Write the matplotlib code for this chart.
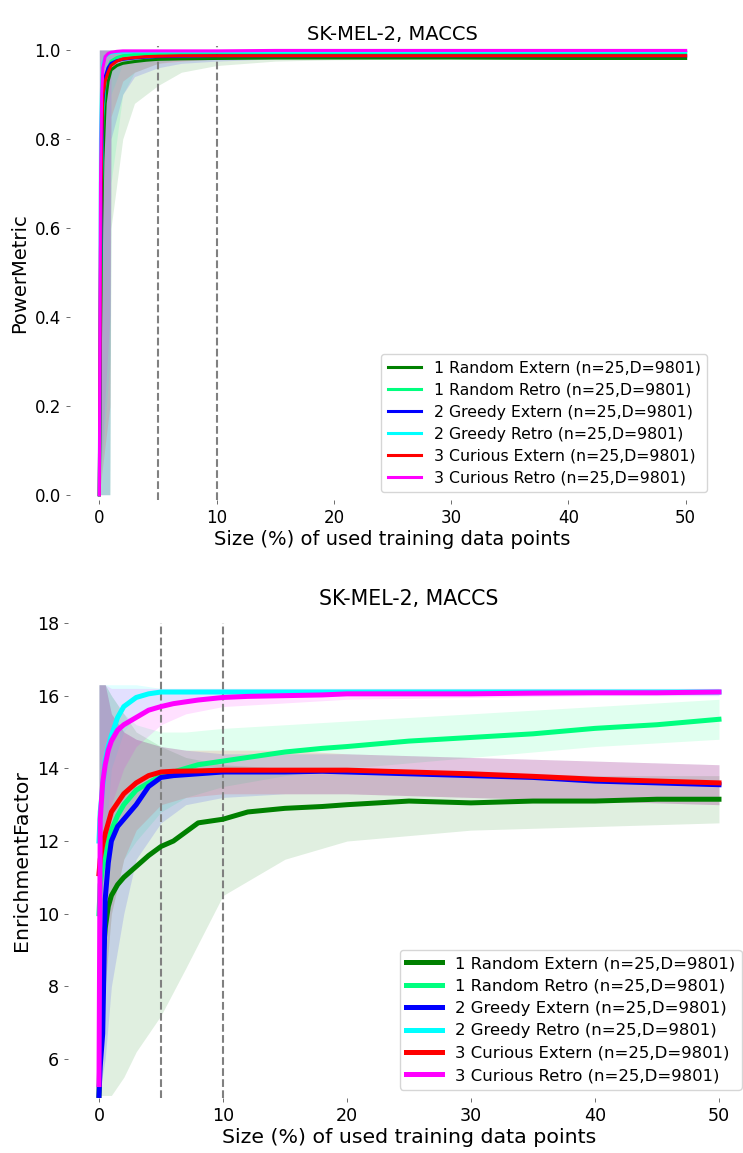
import matplotlib
matplotlib.use("Agg")
import matplotlib.pyplot as plt

# названия серий и цвета
labels = ["1 Random Extern (n=25,D=9801)", "1 Random Retro (n=25,D=9801)",
          "2 Greedy Extern (n=25,D=9801)", "2 Greedy Retro (n=25,D=9801)",
          "3 Curious Extern (n=25,D=9801)", "3 Curious Retro (n=25,D=9801)"]
colors = ["#008000", "#00ff7f", "#0000ff", "#00ffff", "#ff0000", "#ff00ff"]
title = "SK-MEL-2, MACCS"
xlabel = "Size (%) of used training data points"
vlines_x = [5, 10]

# ---- PowerMetric: средние кривые
x_pm = [0, 0.1, 0.2, 0.3, 0.5, 0.75, 1, 1.5, 2, 3, 4, 5, 7, 10, 15, 20, 30, 40, 50]
pm_rand_ext = [0, 0.35, 0.6, 0.75, 0.88, 0.93, 0.955, 0.965, 0.97, 0.974, 0.977, 0.979, 0.98, 0.981, 0.982, 0.982, 0.982, 0.981, 0.981]
pm_rand_ret = [0, 0.45, 0.7, 0.85, 0.93, 0.96, 0.975, 0.983, 0.987, 0.99, 0.991, 0.992, 0.993, 0.994, 0.994, 0.994, 0.994, 0.994, 0.994]
pm_greedy_ext = [0, 0.5, 0.75, 0.88, 0.94, 0.96, 0.97, 0.976, 0.979, 0.982, 0.984, 0.985, 0.986, 0.987, 0.987, 0.987, 0.987, 0.987, 0.987]
pm_greedy_ret = [0, 0.8, 0.93, 0.97, 0.985, 0.99, 0.993, 0.995, 0.995, 0.996, 0.996, 0.996, 0.996, 0.996, 0.996, 0.996, 0.996, 0.996, 0.996]
pm_curious_ext = [0, 0.55, 0.8, 0.9, 0.93, 0.95, 0.965, 0.975, 0.98, 0.983, 0.985, 0.986, 0.987, 0.987, 0.987, 0.987, 0.987, 0.987, 0.987]
pm_curious_ret = [0, 0.7, 0.9, 0.96, 0.985, 0.992, 0.995, 0.997, 0.998, 0.998, 0.998, 0.998, 0.998, 0.998, 0.999, 0.999, 0.999, 0.999, 0.999]

# ---- PowerMetric: разброс 25 прогонов (min / max)
xb_pm = [0, 0.9, 1, 2, 3, 5, 7, 10, 15, 20, 30, 40, 50]
pm_lo = [
    [0, 0, 0.6, 0.8, 0.88, 0.92, 0.95, 0.965, 0.975, 0.978, 0.98, 0.98, 0.98],
    [0, 0, 0.7, 0.9, 0.95, 0.97, 0.98, 0.985, 0.99, 0.99, 0.991, 0.992, 0.992],
    [0, 0, 0.8, 0.9, 0.94, 0.96, 0.97, 0.975, 0.98, 0.982, 0.984, 0.985, 0.985],
    [0, 0.3, 0.9, 0.97, 0.98, 0.99, 0.99, 0.992, 0.993, 0.993, 0.993, 0.993, 0.993],
    [0, 0.2, 0.85, 0.93, 0.95, 0.97, 0.975, 0.98, 0.983, 0.984, 0.985, 0.985, 0.985],
    [0, 0.4, 0.95, 0.98, 0.99, 0.995, 0.996, 0.997, 0.997, 0.997, 0.997, 0.997, 0.997],
]
pm_hi = [
    [1, 1, 1, 0.995, 0.993, 0.99, 0.99, 0.99, 0.99, 0.99, 0.99, 0.99, 0.99],
    [1, 1, 1, 1, 1, 0.998, 0.998, 0.998, 0.998, 0.998, 0.998, 0.998, 0.998],
    [1, 1, 1, 0.995, 0.995, 0.993, 0.993, 0.993, 0.993, 0.993, 0.993, 0.993, 0.993],
    [1, 1, 1, 1, 1, 1, 1, 1, 1, 1, 1, 1, 1],
    [1, 1, 1, 0.995, 0.995, 0.993, 0.993, 0.993, 0.993, 0.993, 0.993, 0.993, 0.993],
    [1, 1, 1, 1, 1, 1, 1, 1, 1, 1, 1, 1, 1],
]

# ---- EnrichmentFactor: средние кривые
x_ef = [0, 0.1, 0.3, 0.5, 0.75, 1, 1.5, 2, 3, 4, 5, 6, 8, 10, 12, 15, 18, 20, 25, 30, 35, 40, 45, 50]
ef_rand_ext = [5.0, 6.5, 8.7, 9.6, 10.2, 10.5, 10.8, 11.0, 11.3, 11.6, 11.85, 12.0, 12.5, 12.6, 12.8, 12.9, 12.95, 13.0, 13.1, 13.05, 13.1, 13.1, 13.15, 13.15]
ef_rand_ret = [10.0, 10.8, 11.3, 11.5, 12.0, 12.3, 12.7, 13.0, 13.4, 13.6, 13.8, 13.9, 14.1, 14.2, 14.3, 14.45, 14.55, 14.6, 14.75, 14.85, 14.95, 15.1, 15.2, 15.35]
ef_greedy_ext = [5.0, 5.8, 6.7, 10.4, 11.4, 12.0, 12.4, 12.6, 13.0, 13.5, 13.75, 13.8, 13.85, 13.9, 13.9, 13.9, 13.92, 13.9, 13.85, 13.8, 13.75, 13.65, 13.6, 13.55]
ef_greedy_ret = [12.0, 12.8, 13.5, 14.2, 14.6, 14.9, 15.4, 15.7, 15.95, 16.05, 16.1, 16.1, 16.1, 16.1, 16.1, 16.1, 16.1, 16.1, 16.1, 16.1, 16.1, 16.1, 16.1, 16.1]
ef_curious_ext = [11.1, 11.5, 11.9, 12.2, 12.5, 12.8, 13.05, 13.3, 13.6, 13.8, 13.9, 13.92, 13.93, 13.95, 13.95, 13.95, 13.95, 13.95, 13.9, 13.85, 13.78, 13.7, 13.65, 13.6]
ef_curious_ret = [5.3, 12.6, 13.6, 14.1, 14.5, 14.75, 15.05, 15.2, 15.4, 15.6, 15.7, 15.78, 15.88, 15.95, 15.98, 16.0, 16.02, 16.05, 16.05, 16.05, 16.07, 16.08, 16.08, 16.1]

# ---- EnrichmentFactor: разброс прогонов
xb_ef = [0, 0.5, 1, 2, 3, 5, 7, 10, 15, 20, 30, 40, 50]
ef_lo = [
    [5, 5, 5, 5.5, 6.2, 7.2, 8.5, 10.5, 11.5, 12.0, 12.3, 12.4, 12.5],
    [5, 8, 10, 11.5, 12, 12.8, 13.2, 13.5, 13.8, 14.0, 14.3, 14.6, 14.8],
    [5, 6, 8, 10, 11.5, 12.5, 13, 13.2, 13.3, 13.3, 13.2, 13.1, 13.0],
    [5, 12, 14, 15, 15.5, 15.8, 15.9, 16.0, 16.0, 16.0, 16.0, 16.0, 16.0],
    [5, 8, 10, 11.5, 12.3, 13, 13.2, 13.3, 13.3, 13.3, 13.2, 13.1, 13.0],
    [5, 10, 13, 14, 14.6, 15.2, 15.5, 15.7, 15.8, 15.9, 15.95, 16.0, 16.0],
]
ef_hi = [
    [16.3, 16.3, 16.0, 15.5, 15.0, 14.6, 14.3, 14.1, 14.0, 13.9, 13.9, 13.8, 13.8],
    [16.3, 16.3, 16.0, 15.5, 15.2, 15.0, 15.0, 15.1, 15.2, 15.3, 15.5, 15.7, 15.9],
    [16.3, 16.3, 15.5, 15.0, 14.8, 14.6, 14.5, 14.4, 14.4, 14.4, 14.3, 14.2, 14.1],
    [16.3, 16.3, 16.3, 16.3, 16.3, 16.2, 16.2, 16.2, 16.2, 16.2, 16.2, 16.2, 16.2],
    [16.3, 16.3, 15.5, 15.0, 14.8, 14.6, 14.5, 14.5, 14.5, 14.4, 14.3, 14.2, 14.1],
    [16.3, 16.3, 16.2, 16.2, 16.2, 16.2, 16.2, 16.2, 16.2, 16.2, 16.2, 16.2, 16.2],
]

pm_means = [pm_rand_ext, pm_rand_ret, pm_greedy_ext, pm_greedy_ret, pm_curious_ext, pm_curious_ret]
ef_means = [ef_rand_ext, ef_rand_ret, ef_greedy_ext, ef_greedy_ret, ef_curious_ext, ef_curious_ret]


def draw_panel(ax, x, means, xb, lo, hi, ylabel, ylim, lw, fs, title_fs, title_pad, leg_fs):
    for c, l, h in zip(colors, lo, hi):
        ax.fill_between(xb, l, h, color=c, alpha=0.12, lw=0, zorder=1)
    for c, lab, m in zip(colors, labels, means):
        ax.plot(x, m, color=c, lw=lw, label=lab, zorder=3)
    for v in vlines_x:
        ax.axvline(v, color="gray", ls="--", lw=1.5, zorder=2)
    ax.set_xlim(-2.5, 52.5)
    ax.set_ylim(*ylim)
    ax.set_title(title, fontsize=title_fs, pad=title_pad)
    ax.set_xlabel(xlabel, fontsize=fs * 1.17, labelpad=2)
    ax.set_ylabel(ylabel, fontsize=fs * 1.17)
    ax.tick_params(labelsize=fs, length=3, width=0.6, color="#555555")
    for s in ax.spines.values():
        s.set_visible(False)
    ax.legend(loc="lower right", fontsize=leg_fs, handlelength=2.15,
              labelspacing=0.45)


fig = plt.figure(figsize=(7.43, 11.53), dpi=100)
ax1 = fig.add_axes([0.0942, 0.5663, 0.8681, 0.3942])
ax2 = fig.add_axes([0.0915, 0.0477, 0.9179, 0.4120])

draw_panel(ax1, x_pm, pm_means, xb_pm, pm_lo, pm_hi, "PowerMetric",
           (-0.012, 1.01), 2.2, 12, 14, 4, 11.3)
ax1.set_yticks([0.0, 0.2, 0.4, 0.6, 0.8, 1.0])

draw_panel(ax2, x_ef, ef_means, xb_ef, ef_lo, ef_hi, "EnrichmentFactor",
           (4.93, 18.0), 3.6, 12.6, 14.8, 13, 11.85)
ax2.set_yticks([6, 8, 10, 12, 14, 16, 18])

fig.savefig("out.png", dpi=100)
